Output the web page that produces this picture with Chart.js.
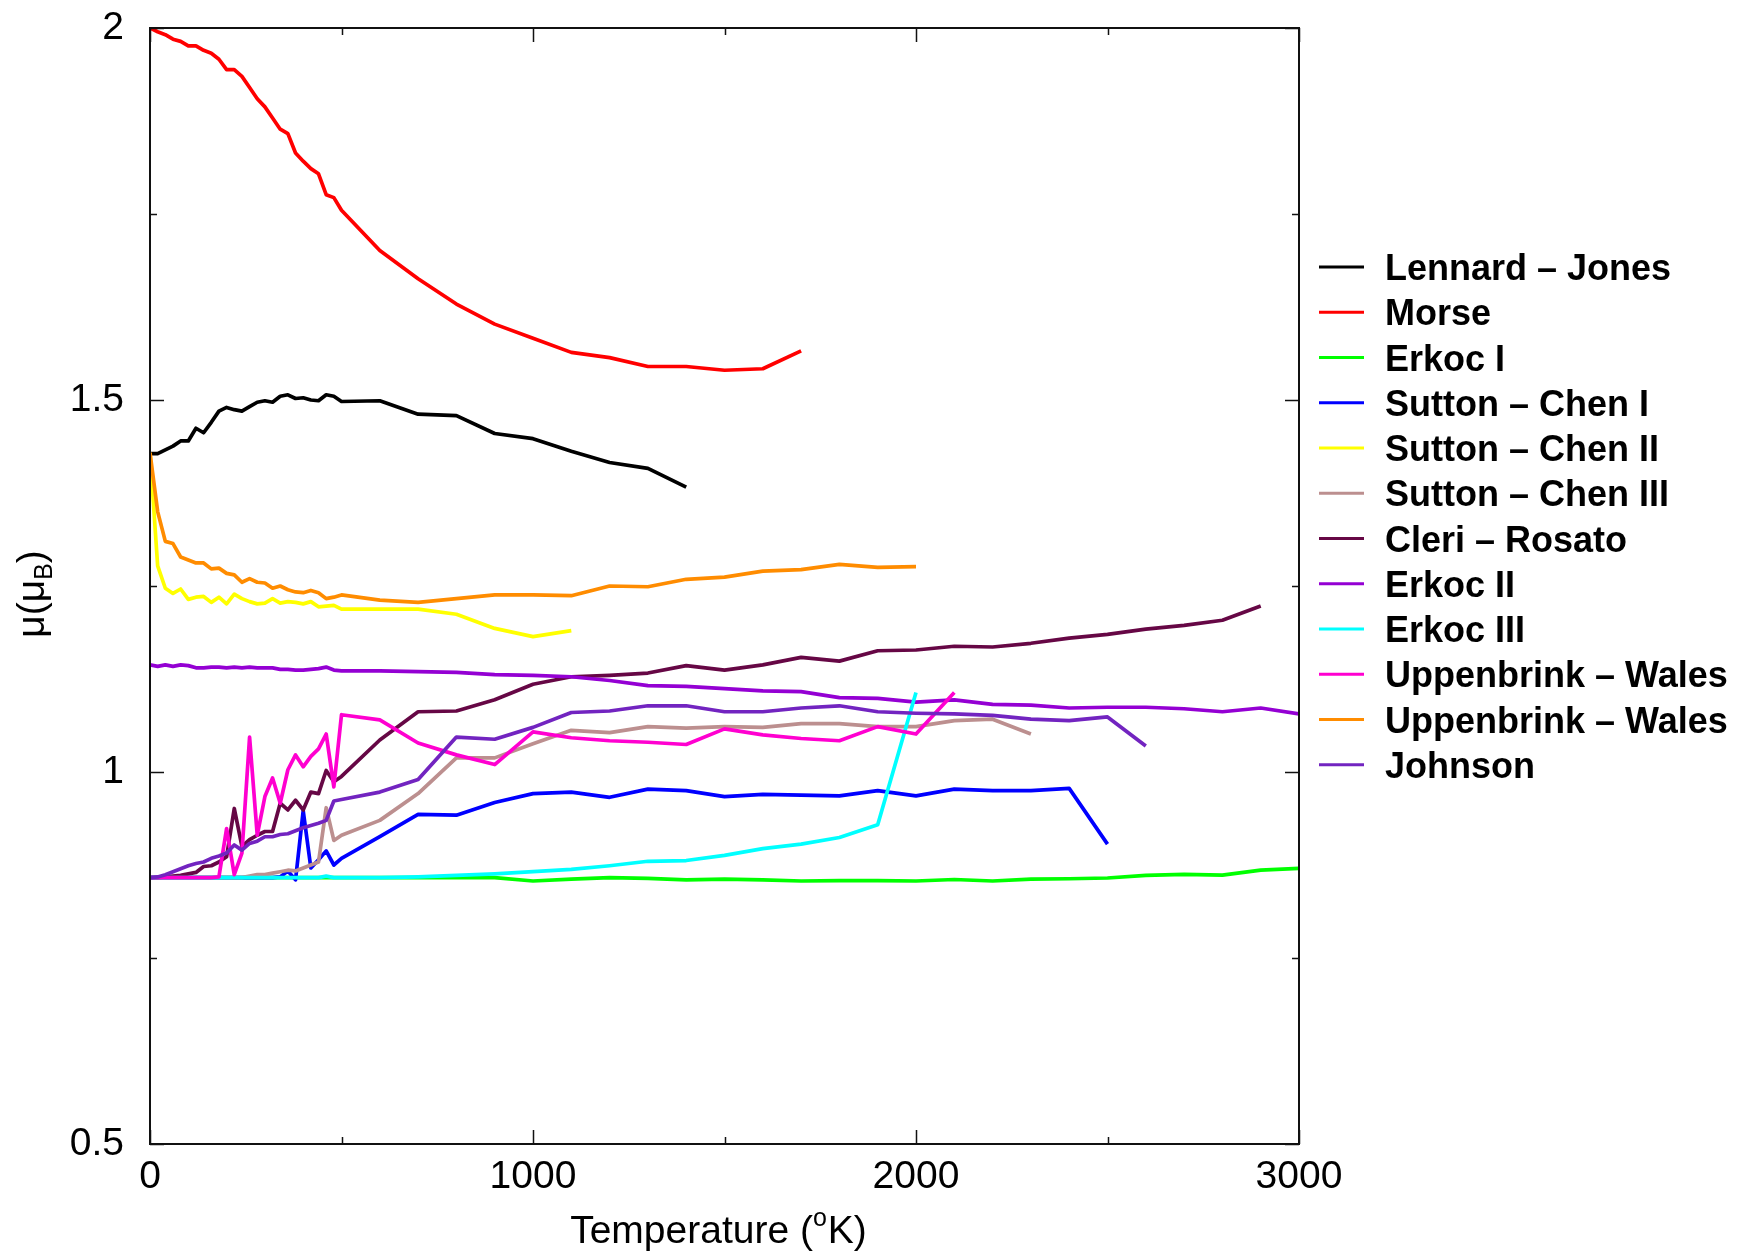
<!DOCTYPE html>
<html>
<head>
<meta charset="utf-8">
<title>Magnetic moment vs temperature</title>
<script src="https://cdn.jsdelivr.net/npm/chart.js@4.4.0/dist/chart.umd.min.js"></script>
<style>
html, body { margin: 0; padding: 0; background: #fff; overflow: hidden; }
canvas { display: block; }
</style>
</head>
<body>
<canvas id="momentChart" width="1738" height="1252"></canvas>
<script>
// temperature grid (K): fine steps up to 500, then every 100
var temps = [0, 20, 40, 60, 80, 100, 120, 140, 160, 180, 200, 220, 240, 260, 280, 300, 320, 340, 360, 380, 400, 420, 440, 460, 480, 500,
    600, 700, 800, 900, 1000, 1100, 1200, 1300, 1400, 1500, 1600, 1700, 1800, 1900, 2000,
    2100, 2200, 2300, 2400, 2500, 2600, 2700, 2800, 2900, 3000];

// magnetic moment per atom, one array per potential (shorter ones stop early)
var lennardJones = [1.428, 1.428, 1.433, 1.438, 1.445, 1.445, 1.462, 1.456, 1.470, 1.485, 1.490, 1.487, 1.485, 1.491, 1.497, 1.499, 1.497, 1.505, 1.507, 1.502, 1.503, 1.500, 1.499, 1.507, 1.505, 1.498,
    1.499, 1.481, 1.479, 1.455, 1.448, 1.431, 1.416, 1.408, 1.383];
var morse = [2.000, 1.995, 1.991, 1.985, 1.982, 1.976, 1.976, 1.970, 1.966, 1.958, 1.944, 1.944, 1.935, 1.920, 1.905, 1.894, 1.879, 1.864, 1.858, 1.832, 1.821, 1.811, 1.804, 1.776, 1.772, 1.755,
    1.701, 1.663, 1.629, 1.602, 1.583, 1.564, 1.557, 1.545, 1.545, 1.540, 1.542, 1.566];
var erkocI = [0.858, 0.858, 0.858, 0.858, 0.858, 0.858, 0.858, 0.858, 0.858, 0.858, 0.858, 0.858, 0.858, 0.858, 0.858, 0.858, 0.858, 0.858, 0.858, 0.858, 0.858, 0.858, 0.858, 0.858, 0.858, 0.858,
    0.858, 0.858, 0.858, 0.858, 0.8535, 0.856, 0.858, 0.857, 0.855, 0.856, 0.855, 0.8535, 0.854, 0.854, 0.8535,
    0.8555, 0.8535, 0.856, 0.8565, 0.8575, 0.861, 0.8625, 0.8615, 0.868, 0.8705];
var suttonChenI = [0.858, 0.858, 0.858, 0.858, 0.858, 0.858, 0.858, 0.858, 0.858, 0.858, 0.858, 0.858, 0.858, 0.858, 0.858, 0.858, 0.858, 0.859, 0.867, 0.855, 0.948, 0.871, 0.882, 0.894, 0.875, 0.884,
    0.913, 0.943, 0.942, 0.959, 0.971, 0.973, 0.966, 0.977, 0.975, 0.967, 0.970, 0.969, 0.968, 0.975, 0.968,
    0.977, 0.975, 0.975, 0.978, 0.903];
var suttonChenII = [1.429, 1.277, 1.247, 1.240, 1.246, 1.232, 1.235, 1.236, 1.228, 1.235, 1.226, 1.239, 1.233, 1.229, 1.226, 1.227, 1.233, 1.227, 1.229, 1.228, 1.226, 1.229, 1.222, 1.223, 1.224, 1.219,
    1.219, 1.219, 1.212, 1.193, 1.182, 1.190];
var suttonChenIII = [0.858, 0.858, 0.858, 0.858, 0.858, 0.858, 0.858, 0.858, 0.858, 0.858, 0.858, 0.858, 0.858, 0.860, 0.862, 0.862, 0.864, 0.866, 0.868, 0.867, 0.871, 0.875, 0.879, 0.952, 0.908, 0.915,
    0.935, 0.971, 1.019, 1.019, 1.038, 1.056, 1.053, 1.061, 1.059, 1.061, 1.060, 1.065, 1.065, 1.061, 1.061,
    1.069, 1.071, 1.051];
var cleriRosato = [0.858, 0.858, 0.859, 0.860, 0.861, 0.863, 0.865, 0.873, 0.874, 0.879, 0.886, 0.951, 0.900, 0.909, 0.915, 0.920, 0.920, 0.958, 0.949, 0.962, 0.949, 0.973, 0.971, 1.002, 0.987, 0.994,
    1.043, 1.081, 1.082, 1.097, 1.118, 1.128, 1.130, 1.133, 1.143, 1.137, 1.144, 1.154, 1.149, 1.163, 1.164,
    1.169, 1.168, 1.173, 1.180, 1.185, 1.192, 1.197, 1.204, 1.223];
var erkocII = [1.144, 1.142, 1.144, 1.142, 1.144, 1.143, 1.140, 1.140, 1.141, 1.141, 1.140, 1.141, 1.140, 1.141, 1.140, 1.140, 1.140, 1.138, 1.138, 1.137, 1.137, 1.138, 1.139, 1.141, 1.137, 1.136,
    1.136, 1.135, 1.134, 1.131, 1.130, 1.128, 1.123, 1.116, 1.115, 1.112, 1.109, 1.108, 1.100, 1.099, 1.094,
    1.097, 1.091, 1.090, 1.086, 1.087, 1.087, 1.085, 1.081, 1.086, 1.078];
var erkocIII = [0.858, 0.858, 0.858, 0.858, 0.858, 0.858, 0.858, 0.858, 0.858, 0.858, 0.858, 0.858, 0.858, 0.858, 0.858, 0.858, 0.858, 0.858, 0.858, 0.858, 0.858, 0.858, 0.858, 0.860, 0.858, 0.858,
    0.858, 0.859, 0.861, 0.863, 0.866, 0.869, 0.874, 0.880, 0.881, 0.888, 0.897, 0.903, 0.912, 0.929, 1.107];
var uppenbrinkWales1 = [0.858, 0.858, 0.858, 0.858, 0.858, 0.858, 0.858, 0.858, 0.858, 0.859, 0.924, 0.862, 0.891, 1.047, 0.915, 0.967, 0.992, 0.958, 1.003, 1.023, 1.007, 1.021, 1.031, 1.051, 0.980, 1.077,
    1.070, 1.039, 1.023, 1.010, 1.054, 1.046, 1.042, 1.040, 1.037, 1.058, 1.050, 1.045, 1.042, 1.061, 1.051,
    1.107];
var uppenbrinkWales2 = [1.429, 1.350, 1.310, 1.307, 1.289, 1.285, 1.281, 1.281, 1.273, 1.274, 1.267, 1.265, 1.255, 1.260, 1.255, 1.254, 1.247, 1.250, 1.245, 1.242, 1.241, 1.244, 1.241, 1.233, 1.235, 1.238,
    1.231, 1.228, 1.233, 1.238, 1.238, 1.237, 1.250, 1.249, 1.259, 1.262, 1.270, 1.272, 1.279, 1.275, 1.276];
var johnson = [0.858, 0.859, 0.862, 0.866, 0.870, 0.874, 0.877, 0.879, 0.884, 0.887, 0.891, 0.902, 0.895, 0.904, 0.907, 0.913, 0.913, 0.916, 0.917, 0.921, 0.925, 0.928, 0.931, 0.935, 0.961, 0.963,
    0.973, 0.990, 1.047, 1.044, 1.060, 1.080, 1.082, 1.089, 1.089, 1.081, 1.081, 1.086, 1.089, 1.081, 1.079,
    1.078, 1.076, 1.071, 1.069, 1.074, 1.035];

var potentials = ['Lennard – Jones', 'Morse', 'Erkoc I', 'Sutton – Chen I', 'Sutton – Chen II', 'Sutton – Chen III',
    'Cleri – Rosato', 'Erkoc II', 'Erkoc III', 'Uppenbrink – Wales', 'Uppenbrink – Wales', 'Johnson'];
var series = [lennardJones, morse, erkocI, suttonChenI, suttonChenII, suttonChenIII,
    cleriRosato, erkocII, erkocIII, uppenbrinkWales1, uppenbrinkWales2, johnson];

var xTickLabels = [0, 1000, 2000, 3000];
var yTickLabels = [0.5, 1, 1.5, 2];

var lineColors = ['#000000', '#ff0000', '#00ff00', '#0000ff', '#ffff00', '#bc8f8f',
    '#660745', '#9400d3', '#00ffff', '#ff00d0', '#ff8c00', '#7224c0'];

var FONT = "'Liberation Sans', Arial, Helvetica, sans-serif";
Chart.defaults.font.family = FONT;
Chart.defaults.color = '#000';

var datasets = [];
for (var i = 0; i < series.length; i++) {
    var pts = [];
    for (var j = 0; j < series[i].length; j++) {
        pts.push({ x: temps[j], y: series[i][j] });
    }
    datasets.push({
        label: potentials[i],
        data: pts,
        borderColor: lineColors[i],
        backgroundColor: lineColors[i],
        borderWidth: 3.7,
        borderJoinStyle: 'round',
        pointRadius: 0,
        tension: 0,
        fill: false,
        order: -i   // later sets drawn on top
    });
}

// frame with inward ticks, axis titles and the legend on the right
var decorations = {
    id: 'decorations',
    afterDraw: function (chart) {
        var ctx = chart.ctx;
        var a = chart.chartArea;
        var xs = chart.scales.x, ys = chart.scales.y;
        ctx.save();

        ctx.strokeStyle = '#111';
        ctx.lineWidth = 2;
        ctx.strokeRect(a.left, a.top, a.right - a.left, a.bottom - a.top);

        ctx.lineWidth = 1.5;
        ctx.beginPath();
        xs.ticks.forEach(function (t) {
            var px = Math.round(xs.getPixelForValue(t.value)) + 0.5;
            var len = t.value % 1000 === 0 ? 14 : 7;
            ctx.moveTo(px, a.bottom); ctx.lineTo(px, a.bottom - len);
            ctx.moveTo(px, a.top); ctx.lineTo(px, a.top + len);
        });
        ys.ticks.forEach(function (t) {
            var py = Math.round(ys.getPixelForValue(t.value)) + 0.5;
            var len = yTickLabels.indexOf(t.value) >= 0 ? 14 : 7;
            ctx.moveTo(a.left, py); ctx.lineTo(a.left + len, py);
            ctx.moveTo(a.right, py); ctx.lineTo(a.right - len, py);
        });
        ctx.stroke();

        // x title with superscript o
        ctx.fillStyle = '#000';
        ctx.textBaseline = 'alphabetic';
        ctx.textAlign = 'left';
        var big = '39px ' + FONT, small = '25px ' + FONT;
        ctx.font = big;
        var w1 = ctx.measureText('Temperature (').width;
        var w3 = ctx.measureText('K)').width;
        ctx.font = small;
        var w2 = ctx.measureText('o').width + 1;
        var tx = (a.left + a.right) / 2 - 6 - (w1 + w2 + w3) / 2;
        var ty = 1243;
        ctx.font = big;
        ctx.fillText('Temperature (', tx, ty);
        ctx.font = small;
        ctx.fillText('o', tx + w1, ty - 17);
        ctx.font = big;
        ctx.fillText('K)', tx + w1 + w2, ty);

        // y title: mu(mu_B), rotated
        ctx.save();
        ctx.translate(44, (a.top + a.bottom) / 2 + 8);
        ctx.rotate(-Math.PI / 2);
        ctx.font = big;
        var u1 = ctx.measureText('\u03bc(\u03bc').width;
        var u3 = ctx.measureText(')').width;
        ctx.font = small;
        var u2 = ctx.measureText('B').width;
        var ux = -(u1 + u2 + u3) / 2;
        ctx.font = big;
        ctx.fillText('\u03bc(\u03bc', ux, 0);
        ctx.font = small;
        ctx.fillText('B', ux + u1, 8);
        ctx.font = big;
        ctx.fillText(')', ux + u1 + u2, 0);
        ctx.restore();

        // legend
        ctx.font = 'bold 36px ' + FONT;
        chart.data.datasets.forEach(function (ds, k) {
            var y = 267 + k * 45.26;
            ctx.strokeStyle = ds.borderColor;
            ctx.lineWidth = 3;
            ctx.beginPath();
            ctx.moveTo(a.right + 20, y);
            ctx.lineTo(a.right + 65, y);
            ctx.stroke();
            ctx.fillStyle = '#000';
            ctx.fillText(ds.label, a.right + 86, y + 13);
        });

        ctx.restore();
    }
};

var chart = new Chart(document.getElementById('momentChart'), {
    type: 'line',
    data: { datasets: datasets },
    options: {
        responsive: false,
        animation: false,
        layout: { padding: { left: 0, right: 439, top: 28, bottom: 0 } },
        plugins: {
            legend: { display: false },
            tooltip: { enabled: false }
        },
        scales: {
            x: {
                type: 'linear',
                min: 0,
                max: 3000,
                grid: { display: false, drawTicks: false },
                border: { display: false },
                ticks: {
                    stepSize: 500,
                    autoSkip: false,
                    maxRotation: 0,
                    padding: 10,
                    color: '#000',
                    font: { size: 39 },
                    callback: function (v) { return xTickLabels.indexOf(v) >= 0 ? String(v) : ''; }
                },
                afterFit: function (s) { s.height = 108; }
            },
            y: {
                type: 'linear',
                min: 0.5,
                max: 2,
                grid: { display: false, drawTicks: false },
                border: { display: false },
                ticks: {
                    stepSize: 0.25,
                    autoSkip: false,
                    padding: 26,
                    color: '#000',
                    font: { size: 39 },
                    callback: function (v) { return yTickLabels.indexOf(v) >= 0 ? String(v) : ''; }
                },
                afterFit: function (s) {
                    s.width = 150;
                    s.paddingTop = 0;
                    s.paddingBottom = 0;
                }
            }
        }
    },
    plugins: [decorations]
});
</script>
</body>
</html>
